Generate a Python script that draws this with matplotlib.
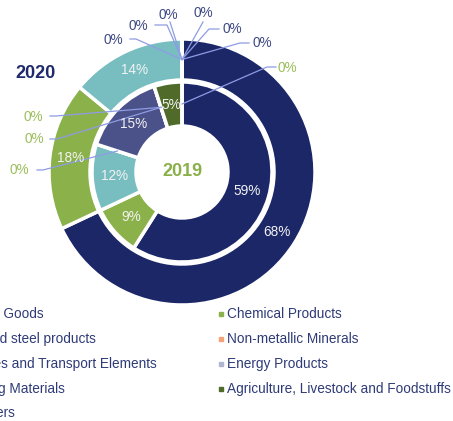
import matplotlib.pyplot as plt
from matplotlib.lines import Line2D
import numpy as np

plt.rcParams['font.family'] = ['Liberation Sans', 'DejaVu Sans']

# Dados (% por setor)
categorias = ['Capital Goods', 'Chemical Products', 'Iron and steel products',
              'Non-metallic Minerals', 'Vehicles and Transport Elements', 'Energy Products',
              'Building Materials', 'Agriculture, Livestock and Foodstuffs', 'Fertilizers']
valores_2020 = [68, 18, 14, 0, 0, 0, 0, 0, 0]
valores_2019 = [59, 9, 12, 0, 15, 0, 0, 5, 0]
rotulos_2020 = ['68%', '18%', '14%', '0%', '0%', '0%', '0%', '0%', '0%']
rotulos_2019 = ['59%', '9%', '12%', '0%', '15%', '0%', '0%', '5%', '0%']
cores = ['#1B2767', '#8BB14B', '#78BEC1', '#F4A277', '#4B5189',
         '#AEB6D0', '#5B9BD5', '#4F6A29', '#A5A5A5']

# --- layout (pixels da imagem) ---
W, H = 453, 421
CX, CY, R = 182, 172, 133

def px(x, y):
    return (x - CX) / R, (CY - y) / R

fig = plt.figure(figsize=(W / 100, H / 100), dpi=100)
ax = fig.add_axes([0, 0, 1, 1])

cunha = dict(edgecolor='white', linewidth=2.5)
ext, _ = ax.pie(valores_2020, radius=1.0, colors=cores, startangle=90, counterclock=False,
                wedgeprops=dict(width=41 / R, **cunha))
inn, _ = ax.pie(valores_2019, radius=90 / R, colors=cores, startangle=90, counterclock=False,
                wedgeprops=dict(width=44 / R, **cunha))

ax.set_xlim(-CX / R, (W - CX) / R)
ax.set_ylim(-(H - CY) / R, CY / R)
ax.set_aspect('auto')
ax.axis('off')


def centro(w):
    a = np.radians((w.theta1 + w.theta2) / 2)
    r = w.r - w.width / 2
    return r * np.cos(a), r * np.sin(a)


# rótulos dentro das fatias
for fatias, vals, rots in [(ext, valores_2020, rotulos_2020), (inn, valores_2019, rotulos_2019)]:
    for w, v, t in zip(fatias, vals, rots):
        if v > 0:
            x, y = centro(w)
            ax.text(x, y, t, ha='center', va='center', color='#F2F2F2', fontsize=9.8)

# rótulos dos zeros com linhas de chamada: (posição do texto, início da linha, cotovelo)
chamadas_2020 = [((113, 40), (130, 39), (136, 39)),
                 ((138, 26), (155, 25), (167, 25)),
                 ((168, 15), (170, 22), None),
                 ((203, 13), (203, 22), None),
                 ((232, 29), (219, 29), (209, 29)),
                 ((262, 43), (249, 43), (240, 43))]
chamadas_2019 = {3: ((19, 170), (37, 170), (43, 170)),
                 5: ((33, 117), (50, 116), (56, 116)),
                 6: ((34, 139), (50, 139), (57, 139)),
                 8: ((287, 68), (276, 67), (267, 67))}

cor_linha = '#8E9CE4'
zeros_ext = [i for i, v in enumerate(valores_2020) if v == 0]
for i, (pt, ini, cot) in zip(zeros_ext, chamadas_2020):
    ancora = centro(ext[i])
    pts = [px(*ini)] + ([px(*cot)] if cot else []) + [ancora]
    ax.plot([p[0] for p in pts], [p[1] for p in pts], color=cor_linha, lw=0.9)
    ax.text(*px(*pt), rotulos_2020[i], ha='center', va='center', color='#3F4985', fontsize=9.8)

for i, (pt, ini, cot) in chamadas_2019.items():
    ancora = centro(inn[i])
    pts = [px(*ini), px(*cot), ancora]
    ax.plot([p[0] for p in pts], [p[1] for p in pts], color=cor_linha, lw=0.9)
    ax.text(*px(*pt), rotulos_2019[i], ha='center', va='center', color='#9BBF5C', fontsize=9.8)

ax.text(*px(36, 73), '2020', ha='center', va='center', color='#1F2A6B',
        fontsize=13, fontweight='bold')
ax.text(0, 0, '2019', ha='center', va='center', color='#8AB04A',
        fontsize=13, fontweight='bold')

# legenda manual (2 colunas, a esquerda cortada pela borda)
col_x = [-43, 227]
lin_y = [314, 339, 364, 389, 413]
for i, (nome, c) in enumerate(zip(categorias, cores)):
    x, y = col_x[i % 2], lin_y[i // 2]
    fig.add_artist(Line2D([(x - 6) / W], [1 - y / H], marker='s', markersize=3.5,
                          color=c, transform=fig.transFigure))
    fig.text(x / W, 1 - y / H, nome, ha='left', va='center', color='#2F3B78', fontsize=9.8)

fig.savefig('out.png', dpi=100)
